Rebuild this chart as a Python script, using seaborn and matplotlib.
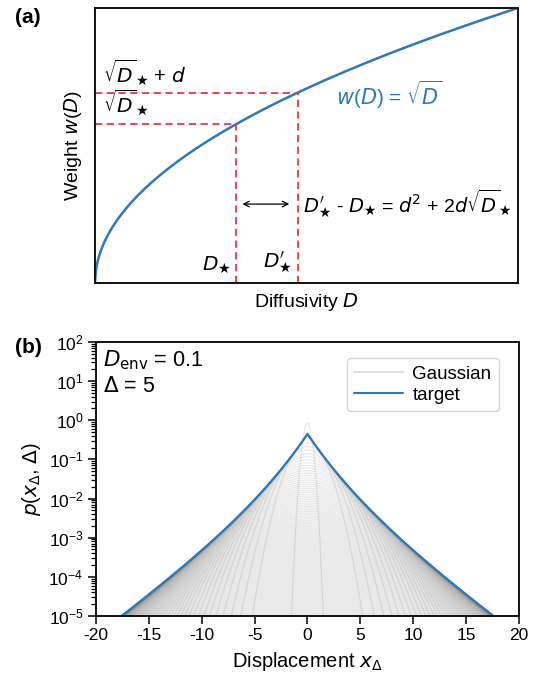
import numpy as np
import pandas as pd
import matplotlib
matplotlib.use("Agg")
import matplotlib.pyplot as plt
from matplotlib.lines import Line2D
import seaborn as sns

sns.set_style("white")
FONT = "Liberation Sans"
plt.rcParams["font.family"] = [FONT, "DejaVu Sans"]
plt.rcParams["mathtext.fontset"] = "dejavusans"
plt.rcParams["axes.unicode_minus"] = False
for key in ("text.color", "axes.labelcolor", "xtick.color", "ytick.color"):
    plt.rcParams[key] = "black"

BLUE = "#2f78b4"
RED = "#e23b3b"

# ---- panel (a): weight function and grid spacing ----
D_star = 1.0 / 3.0          # grid point D_*
d_step = 0.115              # step in sqrt(D)

# ---- panel (b): target propagator and Gaussian components ----
D_env = 0.1
Delta = 5
# target p(x, Delta), log10 values on the positive half axis (symmetric)
target_x = [0, 0.25, 0.5, 1, 1.5, 2, 2.5, 3, 3.5, 4, 4.5, 5,
            6, 7, 8, 9, 10, 11, 12, 13, 14, 15, 16, 17, 18, 19, 20]
target_log10p = [-0.350, -0.449, -0.546, -0.734, -0.915, -1.090, -1.259,
                 -1.422, -1.580, -1.734, -1.883, -2.028, -2.309, -2.576,
                 -2.834, -3.082, -3.323, -3.558, -3.788, -4.012, -4.234,
                 -4.451, -4.667, -4.879, -5.090, -5.299, -5.507]
# diffusivities of the Gaussian components
D_narrow = 0.01
D_grid_step = 1.0 / 15.0
D_grid_count = (2, 126)
cusp_halfwidth = 0.45       # region around x=0 left out when fitting amplitudes

x_ticks = [-20, -15, -10, -5, 0, 5, 10, 15, 20]
y_decades = [-5, -4, -3, -2, -1, 0, 1, 2]

STAR = r"\bigstar"

fig = plt.figure(figsize=(5.41, 6.81), dpi=100)
ax_a = fig.add_axes([0.1756, 0.5844, 0.7819, 0.4039])
ax_b = fig.add_axes([0.1774, 0.0955, 0.7819, 0.4023])

# ================= panel (a) =================
D_line = np.linspace(0, 1, 500)
sns.lineplot(x=D_line, y=np.sqrt(D_line), ax=ax_a, color=BLUE, lw=1.8)

w_star = np.sqrt(D_star)
w_prime = w_star + d_step
D_prime = w_prime ** 2
dash = dict(color=RED, lw=1.3, ls=(0, (4, 2.5)))
ax_a.plot([0, D_star], [w_star, w_star], **dash)
ax_a.plot([D_star, D_star], [0, w_star], **dash)
ax_a.plot([0, D_prime], [w_prime, w_prime], **dash)
ax_a.plot([D_prime, D_prime], [0, w_prime], **dash)

ax_a.set_xlim(0, 1)
ax_a.set_ylim(0, 1)
ax_a.set_xticks([])
ax_a.set_yticks([])
for s in ax_a.spines.values():
    s.set_linewidth(1.4)
    s.set_color("#111111")

ax_a.text(0.018, w_prime + 0.02, r"$\sqrt{D}_{%s}$ + $d$" % STAR, fontsize=14.5,
          ha="left", va="bottom")
ax_a.text(0.018, w_star + 0.025, r"$\sqrt{D}_{%s}$" % STAR, fontsize=14.5,
          ha="left", va="bottom")
ax_a.text(D_star - 0.012, 0.03, r"$D_{%s}$" % STAR, fontsize=14.5,
          ha="right", va="bottom")
ax_a.text(D_prime - 0.012, 0.03, r"$D^{\prime}_{%s}$" % STAR, fontsize=14.5,
          ha="right", va="bottom")
ax_a.annotate("", xy=(D_prime - 0.02, 0.287), xytext=(D_star + 0.015, 0.287),
              arrowprops=dict(arrowstyle="<->", lw=0.9, color="black",
                              shrinkA=0, shrinkB=0))
ax_a.text(D_prime + 0.012, 0.287,
          r"$D^{\prime}_{%s}$ - $D_{%s}$ = $d^2$ + 2$d\sqrt{D}_{%s}$" % (STAR, STAR, STAR),
          fontsize=14, ha="left", va="center")
ax_a.text(0.57, 0.684, r"$w$($D$) = $\sqrt{D}$", fontsize=15, color=BLUE,
          ha="left", va="center")

ax_a.set_xlabel(r"Diffusivity $D$", fontsize=14, labelpad=6)
ax_a.set_ylabel(r"Weight $w$($D$)", fontsize=14, labelpad=8)

# ================= panel (b) =================
tx = np.asarray(target_x, dtype=float)
tl = np.asarray(target_log10p, dtype=float)
full_x = np.concatenate([-tx[::-1], tx[1:]])
full_log = np.concatenate([tl[::-1], tl[1:]])
target_df = pd.DataFrame({"x": full_x, "p": 10.0 ** full_log})

diffusivities = np.concatenate([[D_narrow],
                                np.arange(*D_grid_count) * D_grid_step])

# amplitudes: each Gaussian is scaled to touch the target from below;
# the target's exponential tail is continued past the plotted range
x_fit = np.linspace(-60, 60, 6001)
ax_fit = np.abs(x_fit)
tail_slope = (tl[-1] - tl[-2]) / (tx[-1] - tx[-2])
log_fit = np.where(ax_fit <= tx[-1], np.interp(ax_fit, tx, tl),
                   tl[-1] + tail_slope * (ax_fit - tx[-1]))
ln_target = np.log(10.0) * log_fit
fit_mask = ax_fit >= cusp_halfwidth

xs = np.linspace(-20, 20, 1601)
frames = []
for D in diffusivities:
    var = 2.0 * D * Delta
    ln_amp = np.min(ln_target[fit_mask] + x_fit[fit_mask] ** 2 / (2.0 * var))
    p = np.exp(np.clip(ln_amp - xs ** 2 / (2.0 * var), -60, None))
    frames.append(pd.DataFrame({"x": xs, "p": p, "D": D}))
gauss_df = pd.concat(frames, ignore_index=True)

ax_b.set_yscale("log")
sns.lineplot(data=gauss_df, x="x", y="p", units="D", estimator=None,
             color="0.4", alpha=0.14, lw=0.9, ax=ax_b, sort=False)
sns.lineplot(data=target_df, x="x", y="p", color=BLUE, lw=1.7, ax=ax_b,
             estimator=None, sort=False)

ax_b.set_xlim(-20, 20)
ax_b.set_ylim(1e-5, 1e2)
ax_b.set_xticks(x_ticks)
ax_b.set_xticklabels([str(t) for t in x_ticks])
ax_b.set_yticks([10.0 ** k for k in y_decades])
ax_b.set_yticklabels([r"$\mathregular{10^{%d}}$" % k for k in y_decades])
ax_b.yaxis.set_minor_locator(matplotlib.ticker.LogLocator(
    base=10, subs=np.arange(2, 10), numticks=20))
ax_b.yaxis.set_minor_formatter(matplotlib.ticker.NullFormatter())
ax_b.tick_params(axis="both", which="major", direction="out", length=6,
                 width=1.1, labelsize=12.5, left=True, bottom=True, pad=3)
ax_b.tick_params(axis="y", which="minor", direction="out", length=3.5,
                 width=0.9, left=True)
for s in ax_b.spines.values():
    s.set_linewidth(1.4)
    s.set_color("#111111")

ax_b.text(0.017, 0.975, r"$D_{\mathrm{env}}$ = 0.1", transform=ax_b.transAxes,
          fontsize=15.5, ha="left", va="top")
ax_b.text(0.017, 0.875, r"$\Delta$ = 5", transform=ax_b.transAxes,
          fontsize=15.5, ha="left", va="top")

handles = [Line2D([0], [0], color="#e0e0e0", lw=1.5),
           Line2D([0], [0], color=BLUE, lw=1.5)]
leg = ax_b.legend(handles, ["Gaussian", "target"], loc="upper right",
                  fontsize=13.5, frameon=True, handlelength=2.6,
                  borderpad=0.4, labelspacing=0.2, handletextpad=0.5,
                  bbox_to_anchor=(0.975, 0.975))
leg.get_frame().set_edgecolor("#cccccc")
leg.get_frame().set_linewidth(1.0)

ax_b.set_xlabel(r"Displacement $x_\Delta$", fontsize=14.5, labelpad=5)
ax_b.set_ylabel(r"$p$($x_\Delta$, $\Delta$)", fontsize=14.5, labelpad=4)

fig.text(0.028, 0.974, "(a)", fontsize=15, fontweight="bold", ha="left", va="center")
fig.text(0.028, 0.49, "(b)", fontsize=15, fontweight="bold", ha="left", va="center")

fig.savefig("out.png", dpi=100)
